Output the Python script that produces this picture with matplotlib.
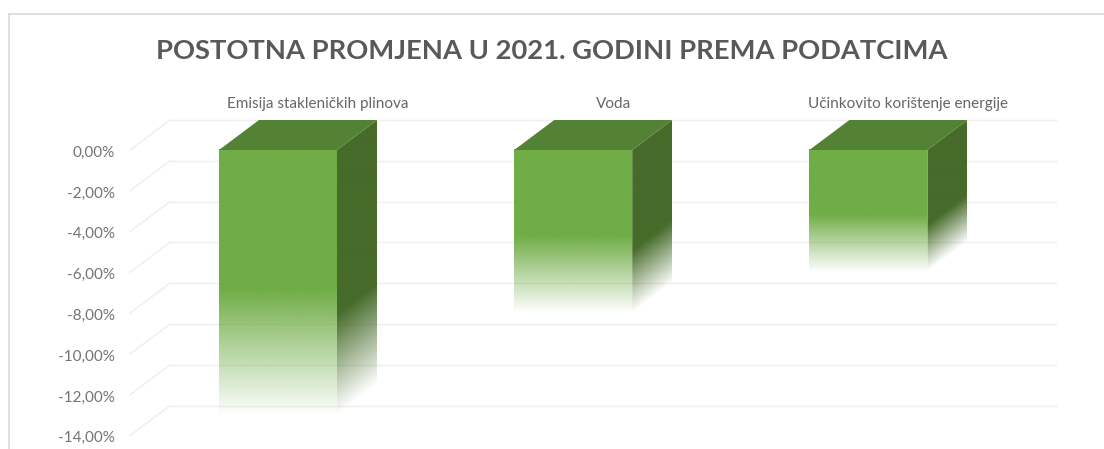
import numpy as np
import matplotlib
matplotlib.use("Agg")
import matplotlib.pyplot as plt
from matplotlib.lines import Line2D
from matplotlib.patches import Polygon
from matplotlib.colors import to_rgb
from matplotlib.transforms import ScaledTranslation

categories = ["Emisija stakleničkih plinova", "Voda", "Učinkovito korištenje energije"]
values = [-13.0, -8.0, -6.0]
tick_values = [0, -2, -4, -6, -8, -10, -12, -14]
tick_labels = ["0,00%", "-2,00%", "-4,00%", "-6,00%", "-8,00%", "-10,00%", "-12,00%", "-14,00%"]
title = "POSTOTNA PROMJENA U 2021. GODINI PREMA PODATCIMA"

W, H = 1104, 449
plt.rcParams["font.family"] = ["Lato", "DejaVu Sans"]
fig = plt.figure(figsize=(W / 100, H / 100), dpi=100, facecolor="white")

# axes frame in pixels
L, R, T, B = 130, 1056, 120, 436
ax = fig.add_axes([L / W, 1 - B / H, (R - L) / W, (B - T) / H])
ax.patch.set_alpha(0)
for s in ax.spines.values():
    s.set_visible(False)

PX_PER_CAT = 295.2
PX_PER_PCT = 20.4
CENTER0 = 278
xlim = ((L - CENTER0) / PX_PER_CAT, (R - CENTER0) / PX_PER_CAT)
depth_y = 30 / PX_PER_PCT
depth_x = 40 / PX_PER_CAT
bar_w = 118 / PX_PER_CAT
ylim = (-(B - 150) / PX_PER_PCT, depth_y)

grid_c = "#eeeeee"
for v in tick_values:
    ax.plot([xlim[0] + depth_x, xlim[1]], [v + depth_y] * 2, color=grid_c, lw=1.0, zorder=1, clip_on=False)
    ax.plot([xlim[0], xlim[0] + depth_x], [v, v + depth_y], color=grid_c, lw=1.0, zorder=1, clip_on=False)

FRONT = to_rgb("#70ad47")
SIDE = to_rgb("#466b2a")
TOP = to_rgb("#548235")
GRID_N = 300


def fade(t, start):
    """Opacity along the bar, 0 at its top and 1 at its bottom."""
    return np.clip((1.0 - t) / (1.0 - start), 0, 1)


for i, val in enumerate(values):
    xl, xr = i - bar_w / 2, i + bar_w / 2
    # front face
    t = (np.arange(GRID_N) + 0.5) / GRID_N
    img = np.zeros((GRID_N, 1, 4))
    img[..., :3] = FRONT
    img[:, 0, 3] = fade(t, 0.53)
    ax.imshow(img, extent=(xl, xr, val, 0), origin="upper", aspect="auto",
              interpolation="bilinear", zorder=3, clip_on=False)
    # side face, gradient sheared along the depth and clipped to its outline
    xs = np.linspace(xr, xr + depth_x, 80)
    ys = np.linspace(val, depth_y, GRID_N)
    XX, YY = np.meshgrid(xs, ys)
    shift = (XX - xr) / depth_x * depth_y
    t = (YY - shift) / val
    img = np.zeros((GRID_N, 80, 4))
    img[..., :3] = SIDE
    img[..., 3] = fade(t, 0.62)
    side = ax.imshow(img, extent=(xr, xr + depth_x, val, depth_y), origin="lower", aspect="auto",
                     interpolation="bilinear", zorder=3)
    poly = Polygon([(xr, 0), (xr + depth_x, depth_y), (xr + depth_x, val + depth_y), (xr, val)],
                   closed=True, transform=ax.transData, fc="none", ec="none")
    side.set_clip_path(poly)
    # top face
    ax.fill([xl, xr, xr + depth_x, xl + depth_x], [0, 0, depth_y, depth_y],
            color=TOP, lw=0, zorder=4, clip_on=False)

ax.set_xlim(*xlim)
ax.set_ylim(*ylim)

ax.set_yticks(tick_values)
ax.set_yticklabels(tick_labels, fontsize=11, color="#737373")
ax.tick_params(axis="y", length=0, pad=11)
nudge = ScaledTranslation(0, -0.8 / 72, fig.dpi_scale_trans)
for lab in ax.get_yticklabels():
    lab.set_transform(lab.get_transform() + nudge)

ax.xaxis.tick_top()
ax.set_xticks([i + depth_x for i in range(len(categories))])
ax.set_xticklabels(categories, fontsize=11, color="#666666")
ax.tick_params(axis="x", length=0, pad=6.5)

fig.text(552 / W, 1 - 51 / H, title, ha="center", va="center",
         fontsize=19.75, fontweight="bold", color="#595959")

# chart frame
border = "#d9d9d9"
fig.add_artist(Line2D([8.5 / W, 8.5 / W], [0, 1 - 14 / H], color=border, lw=1.2))
fig.add_artist(Line2D([8.5 / W, 1], [1 - 14 / H, 1 - 14 / H], color=border, lw=1.2))

fig.savefig("out.png", dpi=100)
